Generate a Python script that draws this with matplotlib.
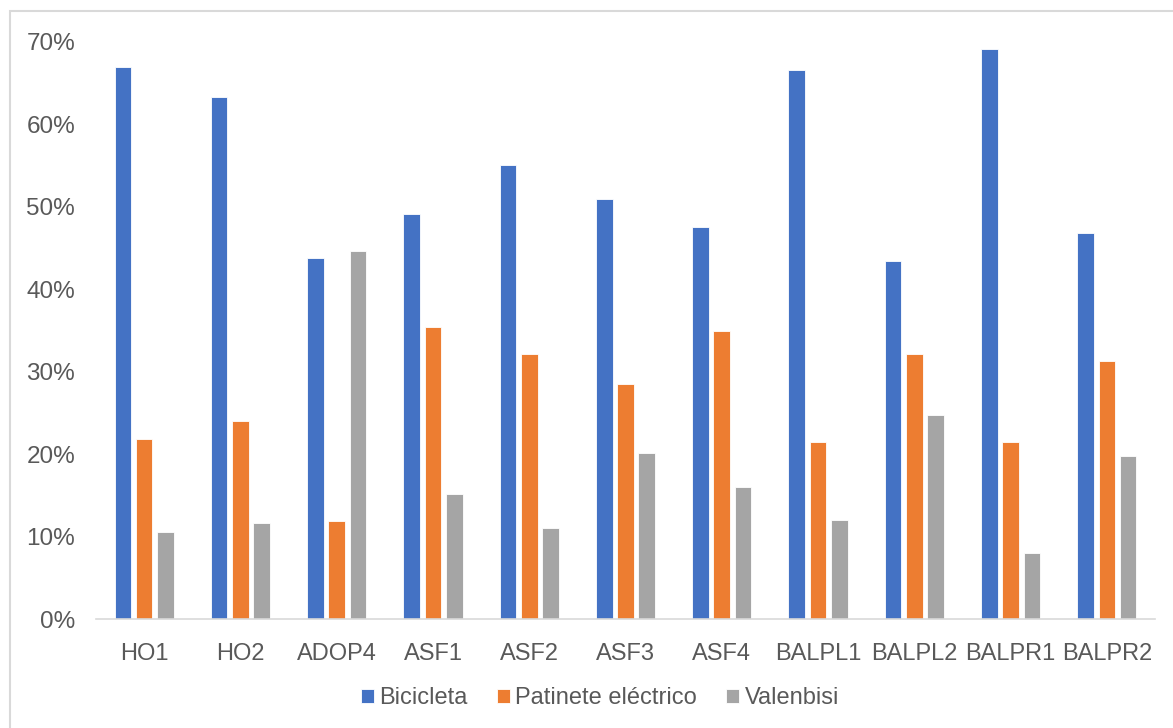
import numpy as np
import matplotlib
matplotlib.use("Agg")
import matplotlib.pyplot as plt
from matplotlib.patches import Rectangle
from matplotlib.ticker import FuncFormatter

plt.rcParams['font.family'] = ['Liberation Sans', 'DejaVu Sans']

categories = ["HO1", "HO2", "ADOP4", "ASF1", "ASF2", "ASF3", "ASF4",
              "BALPL1", "BALPL2", "BALPR1", "BALPR2"]
bicicleta = [67.0, 63.3, 43.8, 49.1, 55.1, 51.0, 47.5, 66.6, 43.4, 69.1, 46.8]
patinete = [21.8, 24.0, 11.9, 35.4, 32.2, 28.5, 35.0, 21.5, 32.2, 21.5, 31.3]
valenbisi = [10.6, 11.6, 44.6, 15.2, 11.0, 20.1, 16.0, 12.0, 24.8, 8.0, 19.8]

series = [("Bicicleta", bicicleta, "#4472C4"),
          ("Patinete eléctrico", patinete, "#ED7D31"),
          ("Valenbisi", valenbisi, "#A5A5A5")]

text_color = "#595959"

fig = plt.figure(figsize=(11.73, 7.28), dpi=100)
ax = fig.add_axes([96 / 1173, 1 - 619 / 728, 1059 / 1173, 577 / 728])

x = np.arange(len(categories))
width = 0.173
step = 0.221
for i, (name, vals, color) in enumerate(series):
    ax.bar(x + (i - 1) * step, np.array(vals) / 100, width, color=color,
           label=name, edgecolor="white", linewidth=0.6)

ax.set_xlim(-0.5, len(categories) - 0.5)
ax.set_ylim(0, 0.70)
ax.set_yticks(np.arange(0, 0.71, 0.1))
ax.yaxis.set_major_formatter(FuncFormatter(lambda v, p: f"{v * 100:.0f}%"))
ax.set_xticks(x)
ax.set_xticklabels(categories)

for side in ["top", "right", "left"]:
    ax.spines[side].set_visible(False)
ax.spines["bottom"].set_color("#D9D9D9")
ax.spines["bottom"].set_linewidth(1.2)
ax.tick_params(axis="x", length=0, pad=17, labelsize=17, labelcolor=text_color)
ax.tick_params(axis="y", length=0, pad=15, labelsize=17.5, labelcolor=text_color)

fig.legend(loc="center", bbox_to_anchor=(600 / 1173, 1 - 698 / 728), ncol=3,
           frameon=False, fontsize=17, handlelength=0.55, handleheight=0.55,
           handletextpad=0.22, columnspacing=1.25, labelcolor=text_color)

# light border round the chart area
fig.patches.append(Rectangle((10 / 1173, -0.01), 1.02, 1 - 11 / 728 + 0.01,
                             transform=fig.transFigure, fill=False,
                             edgecolor="#D9D9D9", linewidth=1.5))

fig.savefig("out.png", dpi=100)
